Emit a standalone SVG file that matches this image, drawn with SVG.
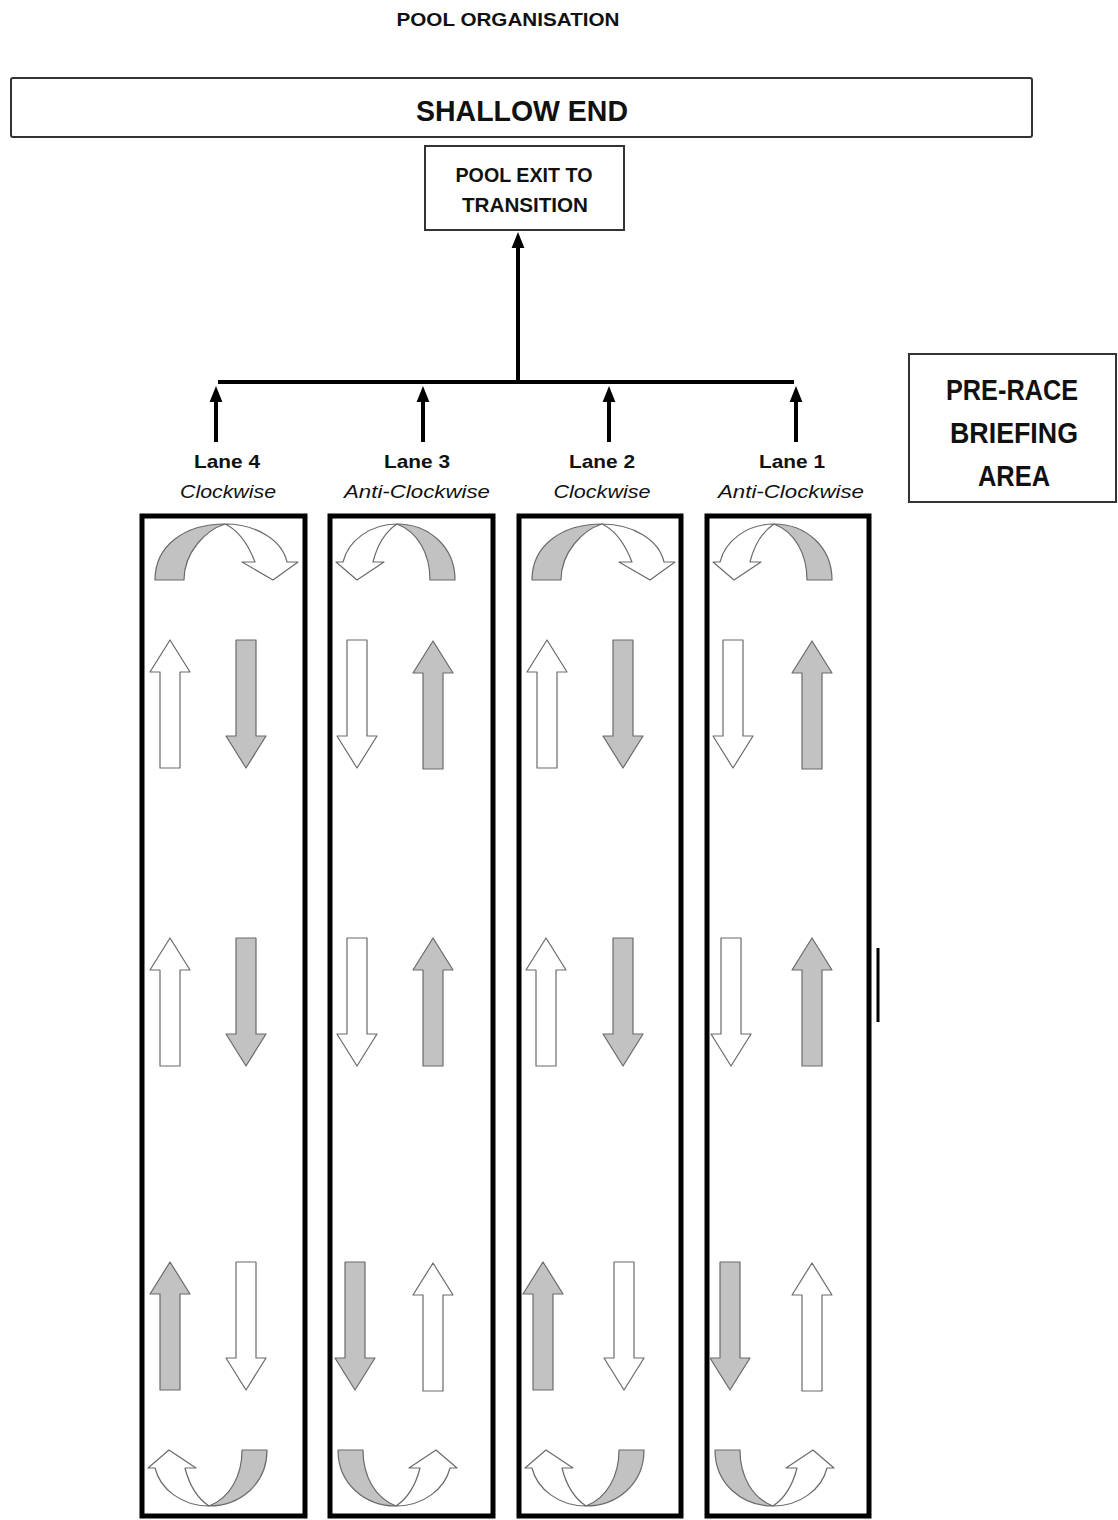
<svg xmlns="http://www.w3.org/2000/svg" xmlns:xlink="http://www.w3.org/1999/xlink" width="1118" height="1520" viewBox="0 0 1118 1520">
<style>
text{font-family:"Liberation Sans",Arial,sans-serif;fill:#111;text-anchor:middle}
.b{font-weight:bold}
.i{font-style:italic}
.box{fill:#fff;stroke:#333;stroke-width:2}
.lane{fill:#fff;stroke:#000;stroke-width:5}
.g{fill:#c2c2c2;stroke:#6a6a6a;stroke-width:1.2;stroke-linejoin:round}
.w{fill:#fff;stroke:#6a6a6a;stroke-width:1.2;stroke-linejoin:round}
.conn{stroke:#000;stroke-width:4;fill:none}
</style>
<defs>
<marker id="ah" markerWidth="4" markerHeight="4" refX="2" refY="2" orient="auto" markerUnits="strokeWidth">
<path d="M0,0.4 L4,2 L0,3.6 Z" fill="#000"/>
</marker>
<path id="up" d="M0,0 L20,32 L10,32 L10,128 L-10,128 L-10,32 L-20,32 Z"/>
<g id="wide">
<path class="g" d="M13,64 C13,30 42,8 83,8 C64,14 42,36 42,64 Z"/>
<path class="w" d="M83,8 C114,8 140,24 145,46 L156,46 L131,64 L100,46 L113,46 C106,28 96,14 83,8 Z"/>
</g>
<g id="narrow">
<path class="g" d="M67,8 C98,8 125,30 125,64 L100,64 C100,38 88,16 67,8 Z"/>
<path class="w" d="M67,8 C40,8 18,25 13,46 L6,46 L27,64 L54,46 L43,46 C47,30 55,16 67,8 Z"/>
</g>
</defs>
<rect width="1118" height="1520" fill="#fff"/>

<g id="title">
<text class="b" x="508" y="26" font-size="19" textLength="223" lengthAdjust="spacingAndGlyphs">POOL ORGANISATION</text>
</g>

<g id="shallow-end">
<rect class="box" x="11" y="78" width="1021" height="59" rx="2"/>
<text class="b" x="522" y="121" font-size="30" textLength="212" lengthAdjust="spacingAndGlyphs">SHALLOW END</text>
</g>

<g id="pool-exit">
<rect class="box" x="425" y="146" width="199" height="84"/>
<text class="b" x="524" y="182" font-size="20" textLength="137" lengthAdjust="spacingAndGlyphs">POOL EXIT TO</text>
<text class="b" x="525" y="212" font-size="20" textLength="126" lengthAdjust="spacingAndGlyphs">TRANSITION</text>
</g>

<g id="pre-race-briefing">
<rect class="box" x="909" y="354" width="207" height="148"/>
<text class="b" x="1012" y="400" font-size="29" textLength="132" lengthAdjust="spacingAndGlyphs">PRE-RACE</text>
<text class="b" x="1014" y="443" font-size="29" textLength="128" lengthAdjust="spacingAndGlyphs">BRIEFING</text>
<text class="b" x="1014" y="486" font-size="29" textLength="72" lengthAdjust="spacingAndGlyphs">AREA</text>
</g>

<g id="connectors">
<line class="conn" x1="518" y1="382" x2="518" y2="240" marker-end="url(#ah)"/>
<line class="conn" x1="218" y1="382" x2="794" y2="382"/>
<line class="conn" x1="216" y1="442" x2="216" y2="394" marker-end="url(#ah)"/>
<line class="conn" x1="423" y1="442" x2="423" y2="394" marker-end="url(#ah)"/>
<line class="conn" x1="609" y1="442" x2="609" y2="394" marker-end="url(#ah)"/>
<line class="conn" x1="796" y1="442" x2="796" y2="394" marker-end="url(#ah)"/>
</g>

<g id="lane-4">
<text class="b" x="227" y="468" font-size="19" textLength="66" lengthAdjust="spacingAndGlyphs">Lane 4</text>
<text class="i" x="228" y="498" font-size="19" textLength="96" lengthAdjust="spacingAndGlyphs">Clockwise</text>
<rect class="lane" x="142" y="516" width="163" height="1000"/>
<use href="#wide" transform="translate(142,516)"/>
<use href="#up" class="w" transform="translate(170,640)"/>
<use href="#up" class="g" transform="translate(246,768) scale(1,-1)"/>
<use href="#up" class="w" transform="translate(170,938)"/>
<use href="#up" class="g" transform="translate(246,1066) scale(1,-1)"/>
<use href="#up" class="g" transform="translate(170,1262)"/>
<use href="#up" class="w" transform="translate(246,1390) scale(1,-1)"/>
<use href="#narrow" transform="translate(142,1514) scale(1,-1)"/>
</g>

<g id="lane-3">
<text class="b" x="417" y="468" font-size="19" textLength="66" lengthAdjust="spacingAndGlyphs">Lane 3</text>
<text class="i" x="417" y="498" font-size="19" textLength="146" lengthAdjust="spacingAndGlyphs">Anti-Clockwise</text>
<rect class="lane" x="330" y="516" width="163" height="1000"/>
<use href="#narrow" transform="translate(330,516)"/>
<use href="#up" class="w" transform="translate(357,768) scale(1,-1)"/>
<use href="#up" class="g" transform="translate(433,641)"/>
<use href="#up" class="w" transform="translate(357,1066) scale(1,-1)"/>
<use href="#up" class="g" transform="translate(433,938)"/>
<use href="#up" class="g" transform="translate(355,1390) scale(1,-1)"/>
<use href="#up" class="w" transform="translate(433,1263)"/>
<use href="#narrow" transform="translate(463,1514) scale(-1,-1)"/>
</g>

<g id="lane-2">
<text class="b" x="602" y="468" font-size="19" textLength="66" lengthAdjust="spacingAndGlyphs">Lane 2</text>
<text class="i" x="602" y="498" font-size="19" textLength="97" lengthAdjust="spacingAndGlyphs">Clockwise</text>
<rect class="lane" x="519" y="516" width="162" height="1000"/>
<use href="#wide" transform="translate(519,516)"/>
<use href="#up" class="w" transform="translate(547,640)"/>
<use href="#up" class="g" transform="translate(623,768) scale(1,-1)"/>
<use href="#up" class="w" transform="translate(546,938)"/>
<use href="#up" class="g" transform="translate(623,1066) scale(1,-1)"/>
<use href="#up" class="g" transform="translate(543,1262)"/>
<use href="#up" class="w" transform="translate(624,1390) scale(1,-1)"/>
<use href="#narrow" transform="translate(519,1514) scale(1,-1)"/>
</g>

<g id="lane-1">
<text class="b" x="792" y="468" font-size="19" textLength="66" lengthAdjust="spacingAndGlyphs">Lane 1</text>
<text class="i" x="791" y="498" font-size="19" textLength="146" lengthAdjust="spacingAndGlyphs">Anti-Clockwise</text>
<rect class="lane" x="707" y="516" width="162" height="1000"/>
<use href="#narrow" transform="translate(707,516)"/>
<use href="#up" class="w" transform="translate(733,768) scale(1,-1)"/>
<use href="#up" class="g" transform="translate(812,641)"/>
<use href="#up" class="w" transform="translate(731,1066) scale(1,-1)"/>
<use href="#up" class="g" transform="translate(812,938)"/>
<use href="#up" class="g" transform="translate(730,1390) scale(1,-1)"/>
<use href="#up" class="w" transform="translate(812,1263)"/>
<use href="#narrow" transform="translate(840,1514) scale(-1,-1)"/>
</g>

<line x1="878" y1="948" x2="878" y2="1022" stroke="#000" stroke-width="3"/>
</svg>
